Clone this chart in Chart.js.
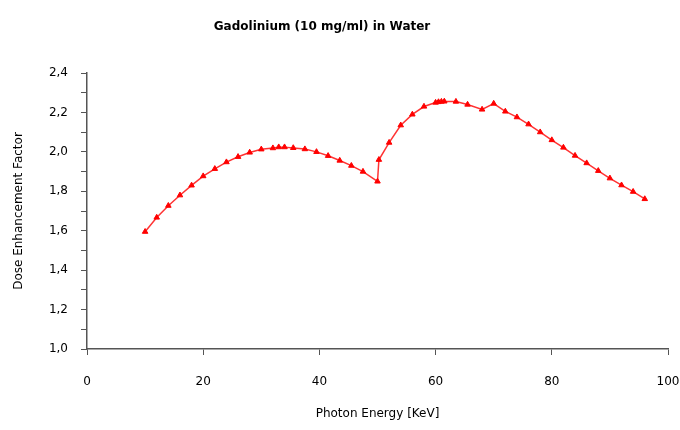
<!DOCTYPE html>
<html>
<head>
<meta charset="utf-8">
<script src="https://cdn.jsdelivr.net/npm/chart.js@4.4.0/dist/chart.umd.min.js"></script>
<style>
  html, body { margin: 0; padding: 0; background: #fff; }
  #wrap { width: 680px; height: 430px; }
</style>
</head>
<body>
<div id="wrap"><canvas id="chart"></canvas></div>
<script>
// photon energy (keV) and dose enhancement factor
const energy = [10, 12, 14, 16, 18, 20, 22, 24, 26, 28, 30, 32, 33, 34, 35.5, 37.5, 39.5, 41.5, 43.5, 45.5, 47.5, 50, 50.24,
  52, 54, 56, 58, 60, 60.5, 61, 61.5, 63.5, 65.5, 68, 70, 72, 74, 76, 78, 80, 82, 84, 86, 88, 90, 92, 94, 96];
const dose = [1.595, 1.667, 1.727, 1.78, 1.83, 1.877, 1.914, 1.948, 1.975, 1.997, 2.013, 2.019, 2.024, 2.024, 2.02, 2.014, 2.0, 1.98, 1.956, 1.93, 1.90, 1.85, 1.96,
  2.047, 2.135, 2.19, 2.23, 2.25, 2.253, 2.255, 2.256, 2.255, 2.24, 2.215, 2.245, 2.205, 2.176, 2.14, 2.10, 2.06, 2.022, 1.981, 1.943, 1.904, 1.866, 1.831, 1.798, 1.761];
const xTicks = [0, 20, 40, 60, 80, 100];
const titleText = "Gadolinium (10 mg/ml) in Water";

const FONT = "'DejaVu Sans', sans-serif";

// title sits a bit left of the plot centre in the original
const titlePlugin = {
  id: "plotTitle",
  afterDraw(chart) {
    const ctx = chart.ctx;
    ctx.save();
    ctx.font = "bold 12px " + FONT;
    ctx.fillStyle = "#000";
    ctx.textAlign = "center";
    ctx.textBaseline = "middle";
    ctx.fillText(titleText, 322, 27);
    ctx.restore();
  }
};

new Chart(document.getElementById("chart"), {
  type: "scatter",
  data: {
    datasets: [{
      data: energy.map((e, i) => ({ x: e, y: dose[i] })),
      showLine: true,
      borderColor: "rgba(255,0,0,0.8)",
      borderWidth: 1.5,
      pointStyle: "triangle",
      pointRadius: 3.2,
      pointBackgroundColor: "#ff0000",
      pointBorderColor: "#ff0000",
      pointBorderWidth: 1,
      tension: 0
    }]
  },
  plugins: [titlePlugin],
  options: {
    responsive: true,
    maintainAspectRatio: false,
    animation: false,
    layout: { padding: { top: 73, right: 12, left: 0, bottom: 0 } },
    plugins: {
      legend: { display: false },
      tooltip: { enabled: false }
    },
    scales: {
      x: {
        type: "linear",
        min: 0,
        max: 100,
        afterBuildTicks: (scale) => { scale.ticks = xTicks.map(v => ({ value: v })); },
        afterFit: (scale) => {
          scale.height = 81;
          // don't let the tick padding push the right edge inwards
          scale.paddingLeft = 0;
          scale.paddingRight = 0;
        },
        grid: { drawOnChartArea: false, tickLength: 6, color: "#555", tickWidth: 1 },
        border: { color: "#555", width: 1.5 },
        ticks: { color: "#000", font: { family: FONT, size: 12 }, padding: 20, maxRotation: 0 },
        title: {
          display: true,
          text: "Photon Energy [KeV]",
          color: "#000",
          font: { family: FONT, size: 12 },
          padding: { top: 0, bottom: 9 }
        }
      },
      y: {
        min: 1.0,
        max: 2.4,
        afterFit: (scale) => { scale.width = 87; },
        grid: { drawOnChartArea: false, tickLength: 6, color: "#555", tickWidth: 1 },
        border: { color: "#555", width: 1.5 },
        ticks: {
          stepSize: 0.1,
          autoSkip: false,
          color: "#000",
          font: { family: FONT, size: 12 },
          padding: 13,
          callback: (v) => Math.round(v * 10) % 2 === 0 ? v.toFixed(1).replace(".", ",") : ""
        },
        title: {
          display: true,
          text: "Dose Enhancement Factor",
          color: "#000",
          font: { family: FONT, size: 12 },
          padding: { top: 12, bottom: 0 }
        }
      }
    }
  }
});
</script>
</body>
</html>
